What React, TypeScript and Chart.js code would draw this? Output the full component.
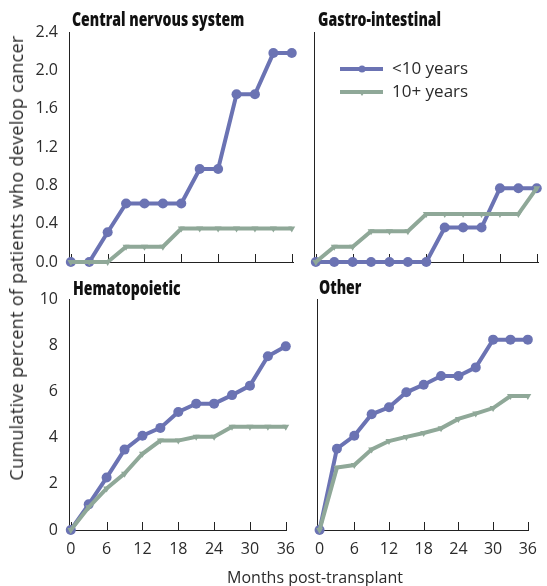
import React, { useEffect, useRef } from "react";
import { Chart, registerables } from "chart.js";
Chart.register(...registerables);

// ---- data ----
const months = [0, 3, 6, 9, 12, 15, 18, 21, 24, 27, 30, 33, 36];
const xTickValues = [0, 6, 12, 18, 24, 30, 36];
const topYTicks = [0, 0.4, 0.8, 1.2, 1.6, 2.0, 2.4];
const bottomYTicks = [0, 2, 4, 6, 8, 10];

const cnsUnder10 = [0, 0, 0.31, 0.61, 0.61, 0.61, 0.61, 0.97, 0.97, 1.75, 1.75, 2.18, 2.18];
const cnsOver10 = [0, 0, 0, 0.16, 0.16, 0.16, 0.35, 0.35, 0.35, 0.35, 0.35, 0.35, 0.35];
const giUnder10 = [0, 0, 0, 0, 0, 0, 0, 0.36, 0.36, 0.36, 0.77, 0.77, 0.77];
const giOver10 = [0, 0.16, 0.16, 0.32, 0.32, 0.32, 0.5, 0.5, 0.5, 0.5, 0.5, 0.5, 0.77];
const hemUnder10 = [0, 1.11, 2.27, 3.48, 4.08, 4.42, 5.11, 5.47, 5.47, 5.84, 6.25, 7.52, 7.95];
const hemOver10 = [0, 0.98, 1.8, 2.44, 3.3, 3.87, 3.87, 4.04, 4.04, 4.47, 4.47, 4.47, 4.47];
const othUnder10 = [0, 3.52, 4.08, 5.01, 5.31, 5.96, 6.29, 6.67, 6.67, 7.04, 8.24, 8.24, 8.24];
const othOver10 = [0, 2.7, 2.81, 3.49, 3.85, 4.03, 4.2, 4.4, 4.81, 5.04, 5.28, 5.8, 5.8];

const seriesLabels = ["<10 years", "10+ years"];
const panelTitles = ["Central nervous system", "Gastro-intestinal", "Hematopoietic", "Other"];
const xAxisTitle = "Months post-transplant";
const yAxisTitle = "Cumulative percent of patients who develop cancer";

// ---- styles ----
const BLUE = "#6b73b3";
const GREEN = "#8fa898";
const AXIS = "#222222";
const TEXT = "#2b2b2b";
const FONT = "'Open Sans', sans-serif";

type PanelProps = {
  canvas: { left: number; top: number; width: number; height: number };
  area: { l: number; r: number; t: number; b: number };
  under: number[];
  over: number[];
  yTicks: number[];
  decimals: number;
  showY: boolean;
  showX: boolean;
  legend?: boolean;
};

function Panel(p: PanelProps) {
  const ref = useRef<HTMLCanvasElement>(null);
  useEffect(() => {
    const el = ref.current!;
    const { canvas, area } = p;
    const innerTicks = {
      id: "innerTicks",
      beforeDatasetsDraw(chart: any) {
        const xs = chart.scales.x;
        const yb = chart.chartArea.bottom;
        const c = chart.ctx;
        c.save();
        c.strokeStyle = AXIS;
        c.lineWidth = 1;
        for (const v of xTickValues) {
          const px = Math.round(xs.getPixelForValue(v)) + 0.5;
          c.beginPath();
          c.moveTo(px, yb);
          c.lineTo(px, yb - 8);
          c.stroke();
        }
        c.restore();
      },
    };
    const legendPlugin = {
      id: "customLegend",
      afterDraw(chart: any) {
        if (!p.legend) return;
        const c = chart.ctx;
        const ox = canvas.left;
        const oy = canvas.top;
        const items = [
          { label: seriesLabels[0], color: BLUE, style: "circle", y: 69 },
          { label: seriesLabels[1], color: GREEN, style: "triangle", y: 92 },
        ];
        c.save();
        for (const it of items) {
          const y = it.y - oy;
          c.strokeStyle = it.color;
          c.lineWidth = 4;
          c.beginPath();
          c.moveTo(340 - ox, y);
          c.lineTo(383 - ox, y);
          c.stroke();
          c.fillStyle = it.color;
          if (it.style === "circle") {
            c.beginPath();
            c.arc(362 - ox, y, 3.5, 0, Math.PI * 2);
            c.fill();
          } else {
            c.beginPath();
            c.moveTo(362 - ox - 3.5, y - 1);
            c.lineTo(362 - ox + 3.5, y - 1);
            c.lineTo(362 - ox, y + 4);
            c.closePath();
            c.fill();
          }
          c.fillStyle = TEXT;
          c.font = `17px ${FONT}`;
          c.textBaseline = "middle";
          c.textAlign = "left";
          c.fillText(it.label, 392 - ox, y);
        }
        c.restore();
      },
    };
    const chart = new Chart(el, {
      type: "line",
      data: {
        datasets: [
          {
            label: seriesLabels[1],
            data: months.map((m, i) => ({ x: m, y: p.over[i] })),
            borderColor: GREEN,
            backgroundColor: GREEN,
            borderWidth: 4,
            pointStyle: "triangle",
            rotation: 180,
            pointRadius: 4,
            pointBorderWidth: 0,
            pointBackgroundColor: GREEN,
            tension: 0,
            clip: false as any,
            order: 0,
          },
          {
            label: seriesLabels[0],
            data: months.map((m, i) => ({ x: m, y: p.under[i] })),
            borderColor: BLUE,
            backgroundColor: BLUE,
            borderWidth: 4,
            pointStyle: "circle",
            pointRadius: 5,
            pointBorderWidth: 0,
            pointBackgroundColor: BLUE,
            tension: 0,
            clip: false as any,
            order: 1,
          },
        ],
      },
      options: {
        responsive: false,
        animation: false,
        devicePixelRatio: 1,
        layout: {
          padding: {
            left: 0,
            right: canvas.left + canvas.width - area.r,
            top: area.t - canvas.top,
            bottom: 0,
          },
        },
        plugins: { legend: { display: false }, tooltip: { enabled: false }, title: { display: false } },
        scales: {
          x: {
            type: "linear",
            min: -0.3,
            max: 36.2,
            afterBuildTicks: (s: any) => {
              s.ticks = xTickValues.map((v) => ({ value: v }));
            },
            afterFit: (s: any) => {
              s.height = canvas.top + canvas.height - area.b;
            },
            grid: { display: false, drawTicks: false },
            border: { display: true, color: AXIS, width: 1 },
            ticks: {
              display: p.showX,
              padding: 10,
              color: TEXT,
              font: { family: FONT, size: 16 },
              maxRotation: 0,
              autoSkip: false,
            },
          },
          y: {
            type: "linear",
            min: p.yTicks[0],
            max: p.yTicks[p.yTicks.length - 1],
            afterBuildTicks: (s: any) => {
              s.ticks = p.yTicks.map((v) => ({ value: v }));
            },
            afterFit: (s: any) => {
              s.width = area.l - canvas.left;
            },
            grid: { display: false, drawTicks: false },
            border: { display: true, color: AXIS, width: 1 },
            ticks: {
              display: p.showY,
              padding: 11,
              color: TEXT,
              font: { family: FONT, size: 16 },
              callback: (v: any) => Number(v).toFixed(p.decimals),
            },
          },
        },
      },
      plugins: [innerTicks, legendPlugin],
    });
    return () => chart.destroy();
  }, []);
  return (
    <canvas
      ref={ref}
      width={p.canvas.width}
      height={p.canvas.height}
      style={{
        position: "absolute",
        left: p.canvas.left,
        top: p.canvas.top,
        width: p.canvas.width,
        height: p.canvas.height,
      }}
    />
  );
}

const titleStyle = (left: number, top: number): React.CSSProperties => ({
  position: "absolute",
  left,
  top,
  fontFamily: FONT,
  fontWeight: 800,
  fontSize: 19,
  lineHeight: "19px",
  color: "#111111",
  whiteSpace: "nowrap",
  transform: "scaleX(0.74)",
  transformOrigin: "left center",
});

export default function App() {
  return (
    <div
      style={{
        position: "fixed",
        left: 0,
        top: 0,
        width: 547,
        height: 586,
        background: "#ffffff",
        overflow: "hidden",
      }}
    >
      <Panel
        canvas={{ left: 0, top: 275, width: 305, height: 311 }}
        area={{ l: 69, r: 293, t: 299, b: 530 }}
        under={hemUnder10}
        over={hemOver10}
        yTicks={bottomYTicks}
        decimals={0}
        showY={true}
        showX={true}
      />
      <Panel
        canvas={{ left: 305, top: 275, width: 242, height: 311 }}
        area={{ l: 314, r: 538, t: 299, b: 530 }}
        under={othUnder10}
        over={othOver10}
        yTicks={bottomYTicks}
        decimals={0}
        showY={false}
        showX={true}
      />
      <Panel
        canvas={{ left: 0, top: 0, width: 305, height: 290 }}
        area={{ l: 69, r: 293, t: 32, b: 262 }}
        under={cnsUnder10}
        over={cnsOver10}
        yTicks={topYTicks}
        decimals={1}
        showY={true}
        showX={false}
      />
      <Panel
        canvas={{ left: 305, top: 0, width: 242, height: 290 }}
        area={{ l: 314, r: 538, t: 32, b: 262 }}
        under={giUnder10}
        over={giOver10}
        yTicks={topYTicks}
        decimals={1}
        showY={false}
        showX={false}
        legend={true}
      />
      <div style={titleStyle(72, 10)}>{panelTitles[0]}</div>
      <div style={titleStyle(318, 10)}>{panelTitles[1]}</div>
      <div style={titleStyle(73, 279)}>{panelTitles[2]}</div>
      <div style={titleStyle(319, 278)}>{panelTitles[3]}</div>
      <div
        style={{
          position: "absolute",
          left: 0,
          top: 567,
          width: 630,
          textAlign: "center",
          fontFamily: FONT,
          fontSize: 16,
          lineHeight: "20px",
          color: TEXT,
          whiteSpace: "nowrap",
        }}
      >
        {xAxisTitle}
      </div>
      <div
        style={{
          position: "absolute",
          left: 16,
          top: 258,
          transform: "translate(-50%, -50%) rotate(-90deg)",
          fontFamily: FONT,
          fontSize: 18,
          letterSpacing: "0.3px",
          lineHeight: "20px",
          color: TEXT,
          whiteSpace: "nowrap",
        }}
      >
        {yAxisTitle}
      </div>
    </div>
  );
}
